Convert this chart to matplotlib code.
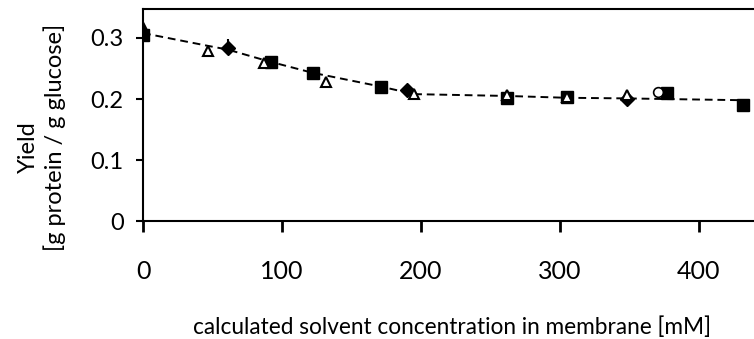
import matplotlib
matplotlib.use("Agg")
import matplotlib.pyplot as plt

plt.rcParams['font.family'] = ['Lato', 'DejaVu Sans']

# dashed guide line through the data
line_x = [0, 47, 61, 90, 122, 172, 195, 262, 305, 348, 375, 432]
line_y = [0.308, 0.287, 0.281, 0.262, 0.243, 0.220, 0.208, 0.205, 0.202, 0.201, 0.200, 0.198]

# filled squares
sq_x = [0, 92, 122, 171, 262, 305, 377, 432]
sq_y = [0.305, 0.261, 0.243, 0.220, 0.201, 0.203, 0.210, 0.190]

# open triangles
tri_x = [47, 87, 132, 195, 262, 305, 348]
tri_y = [0.279, 0.259, 0.228, 0.208, 0.207, 0.203, 0.206]

# filled triangle at origin
ftri_x = [0]
ftri_y = [0.316]

# filled diamonds
dia_x = [61, 190, 348]
dia_y = [0.283, 0.215, 0.200]

# plus marks
plus_x = [61]
plus_y = [0.289]

# open circles
circ_x = [371]
circ_y = [0.211]

xticks = [0, 100, 200, 300, 400]
yticks = [0, 0.1, 0.2, 0.3]
yticklabels = ['0', '0.1', '0.2', '0.3']

fig = plt.figure(figsize=(7.54, 3.39), dpi=100)
ax = fig.add_axes([0.1897, 0.348, 0.82, 0.6254])

ax.plot(line_x, line_y, color='black', linestyle=(0, (4, 2.5)), linewidth=1.4, zorder=1)
ax.plot(sq_x, sq_y, linestyle='none', marker='s', markersize=8.5, color='black', zorder=3)
ax.plot(ftri_x, ftri_y, linestyle='none', marker='^', markersize=8, color='black', zorder=3)
ax.plot(dia_x, dia_y, linestyle='none', marker='D', markersize=7.5, color='black', zorder=3)
ax.plot(plus_x, plus_y, linestyle='none', marker='|', markersize=9, markeredgewidth=1.5, color='black', zorder=3)
ax.plot(tri_x, tri_y, linestyle='none', marker='^', markersize=7.5, markerfacecolor='white',
        markeredgecolor='black', markeredgewidth=1.5, zorder=4)
ax.plot(circ_x, circ_y, linestyle='none', marker='o', markersize=7, markerfacecolor='white',
        markeredgecolor='black', markeredgewidth=1.2, zorder=4)

ax.set_xlim(0, 445)
ax.set_ylim(0, 0.3475)
ax.set_xticks(xticks)
ax.set_yticks(yticks)
ax.set_yticklabels(yticklabels)

ax.spines['right'].set_visible(False)
for s in ['left', 'bottom', 'top']:
    ax.spines[s].set_linewidth(1.5)

ax.tick_params(axis='x', direction='out', length=8, width=2, pad=20, labelsize=18)
ax.tick_params(axis='y', direction='out', length=5, width=1.5, pad=9, labelsize=17)

fig.text(0.6, 0.0354, 'calculated solvent concentration in membrane [mM]',
         ha='center', va='center', fontsize=16.3)
fig.text(28 / 754, 1 - 147 / 339, 'Yield', rotation=90, ha='center', va='center', fontsize=17)
fig.text(55 / 754, 1 - 137 / 339, '[g protein / g glucose]', rotation=90,
         ha='center', va='center', fontsize=17)

fig.savefig('out.png', dpi=100)
